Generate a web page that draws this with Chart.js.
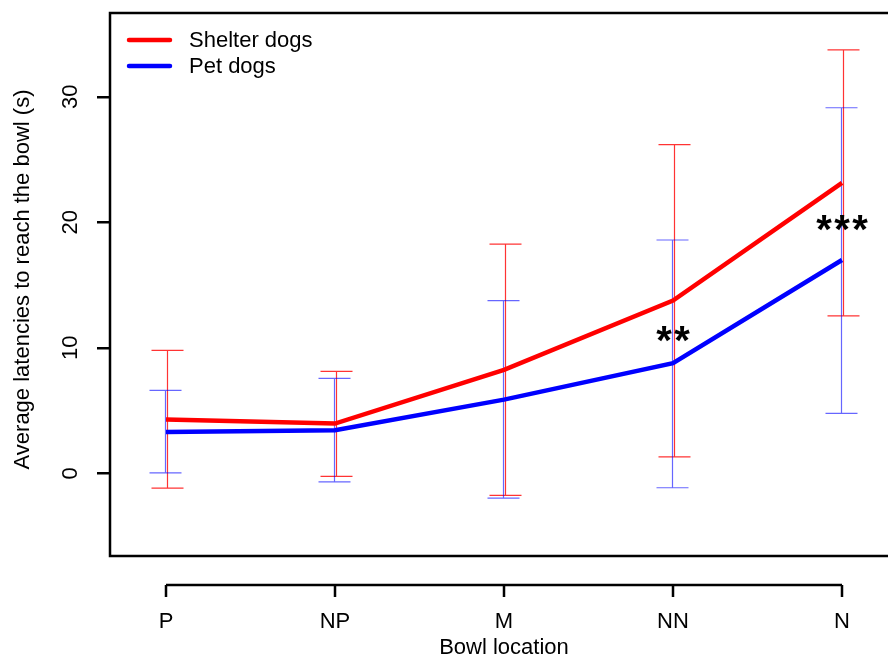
<!DOCTYPE html>
<html>
<head>
<meta charset="utf-8">
<script src="https://cdn.jsdelivr.net/npm/chart.js@4/dist/chart.umd.min.js"></script>
<style>
html,body{margin:0;padding:0;background:#fff;}
#wrap{width:888px;height:660px;position:relative;}
</style>
</head>
<body>
<div id="wrap"><canvas id="c" width="888" height="660"></canvas></div>
<script>
// ---- data ----
const categories = ["P", "NP", "M", "NN", "N"];
const shelterMean = [4.28, 3.96, 8.25, 13.76, 23.14];
const shelterUpper = [9.79, 8.12, 18.27, 26.19, 33.74];
const shelterLower = [-1.18, -0.25, -1.76, 1.31, 12.54];
const petMean = [3.30, 3.43, 5.87, 8.78, 17.0];
const petUpper = [6.61, 7.56, 13.76, 18.59, 29.13];
const petLower = [0.04, -0.68, -1.98, -1.15, 4.78];
const yTicks = [0, 10, 20, 30];
const sigLabels = ["", "", "", "**", "***"];
const sigY = [null, null, null, 11.0, 19.9];
const seriesNames = ["Shelter dogs", "Pet dogs"];

const FONT = "'Liberation Sans', Arial, sans-serif";
const xs = categories.map((c, i) => i + 1);

const errBars = [
  { upper: shelterUpper, lower: shelterLower, color: "rgba(255,0,0,0.8)", dx: 1 },
  { upper: petUpper, lower: petLower, color: "rgba(0,0,255,0.6)", dx: -1 }
];

const drawPlugin = {
  id: "rbase",
  beforeDatasetsDraw(chart) {
    const ctx = chart.ctx, x = chart.scales.x, y = chart.scales.y;
    ctx.save();
    errBars.forEach(eb => {
      ctx.strokeStyle = eb.color;
      ctx.lineWidth = 1.2;
      xs.forEach((xv, i) => {
        const px = Math.round(x.getPixelForValue(xv)) + eb.dx + 0.5;
        const pu = y.getPixelForValue(eb.upper[i]);
        const pl = y.getPixelForValue(eb.lower[i]);
        ctx.beginPath();
        ctx.moveTo(px, pu); ctx.lineTo(px, pl);
        ctx.moveTo(px - 16, pu); ctx.lineTo(px + 16, pu);
        ctx.moveTo(px - 16, pl); ctx.lineTo(px + 16, pl);
        ctx.stroke();
      });
    });
    ctx.restore();
  },
  afterDraw(chart) {
    const ctx = chart.ctx, x = chart.scales.x, y = chart.scales.y;
    const a = chart.chartArea;
    ctx.save();
    // box (right edge lies off canvas)
    ctx.strokeStyle = "#000";
    ctx.lineWidth = 2.5;
    ctx.beginPath();
    ctx.moveTo(a.right + 20, a.top);
    ctx.lineTo(a.left, a.top);
    ctx.lineTo(a.left, a.bottom);
    ctx.lineTo(a.right + 20, a.bottom);
    ctx.stroke();
    // y tick labels (rotated)
    ctx.fillStyle = "#000";
    ctx.font = "22px " + FONT;
    ctx.textAlign = "center";
    ctx.textBaseline = "middle";
    yTicks.forEach(v => {
      const py = y.getPixelForValue(v);
      ctx.save();
      ctx.translate(71, py);
      ctx.rotate(-Math.PI / 2);
      ctx.fillText(String(v), 0, 0);
      ctx.restore();
    });
    // y title
    ctx.save();
    ctx.translate(23, (a.top + a.bottom) / 2 - 5);
    ctx.rotate(-Math.PI / 2);
    ctx.font = "22px " + FONT;
    ctx.fillText("Average latencies to reach the bowl (s)", 0, 0);
    ctx.restore();
    // detached x axis
    const axY = 585;
    const x0 = x.getPixelForValue(xs[0]), x1 = x.getPixelForValue(xs[xs.length - 1]);
    ctx.lineWidth = 2.5;
    ctx.beginPath();
    ctx.moveTo(x0, axY); ctx.lineTo(x1, axY);
    xs.forEach(xv => {
      const px = x.getPixelForValue(xv);
      ctx.moveTo(px, axY); ctx.lineTo(px, axY + 12);
    });
    ctx.stroke();
    ctx.font = "22px " + FONT;
    ctx.textBaseline = "middle";
    categories.forEach((c, i) => {
      ctx.fillText(c, x.getPixelForValue(xs[i]), 622);
    });
    ctx.fillText("Bowl location", (x0 + x1) / 2, 648);
    // significance labels (each star spaced like the original)
    ctx.font = "bold 40px " + FONT;
    ctx.textBaseline = "alphabetic";
    ctx.textAlign = "center";
    const pitch = 18;
    sigLabels.forEach((s, i) => {
      if (!s) return;
      const cx = x.getPixelForValue(xs[i]);
      const by = y.getPixelForValue(sigY[i]) + 19;
      const n = s.length;
      for (let k = 0; k < n; k++) {
        ctx.fillText(s[k], cx + (k - (n - 1) / 2) * pitch, by);
      }
    });
    // legend
    const cols = ["#ff0000", "#0000ff"];
    const ly = [40, 66];
    ctx.font = "22px " + FONT;
    ctx.textAlign = "left";
    ctx.textBaseline = "middle";
    seriesNames.forEach((n, i) => {
      ctx.strokeStyle = cols[i];
      ctx.lineWidth = 4.5;
      ctx.lineCap = "round";
      ctx.beginPath();
      ctx.moveTo(129, ly[i]); ctx.lineTo(170, ly[i]);
      ctx.stroke();
      ctx.fillStyle = "#000";
      ctx.fillText(n, 189, ly[i] + 1);
    });
    ctx.restore();
  }
};

new Chart(document.getElementById("c"), {
  type: "line",
  data: {
    datasets: [
      { label: seriesNames[0], data: xs.map((xv, i) => ({ x: xv, y: shelterMean[i] })),
        borderColor: "#ff0000", borderWidth: 4.5, pointRadius: 0, tension: 0, fill: false },
      { label: seriesNames[1], data: xs.map((xv, i) => ({ x: xv, y: petMean[i] })),
        borderColor: "#0000ff", borderWidth: 4.5, pointRadius: 0, tension: 0, fill: false }
    ]
  },
  options: {
    responsive: false,
    animation: false,
    events: [],
    layout: { padding: { top: 13, bottom: 104, left: 0, right: 0 } },
    plugins: { legend: { display: false }, tooltip: { enabled: false } },
    scales: {
      x: {
        type: "linear", display: false,
        min: 1 - 56 / 169, max: 5 + 46 / 169
      },
      y: {
        type: "linear", min: -6.59, max: 36.68,
        afterBuildTicks: s => { s.ticks = yTicks.map(v => ({ value: v })); },
        afterFit: s => { s.width = 110; },
        ticks: { display: false },
        border: { display: false },
        grid: { drawOnChartArea: false, drawTicks: true, tickLength: 13, color: "#000", lineWidth: 2.5 }
      }
    }
  },
  plugins: [drawPlugin]
});
</script>
</body>
</html>
